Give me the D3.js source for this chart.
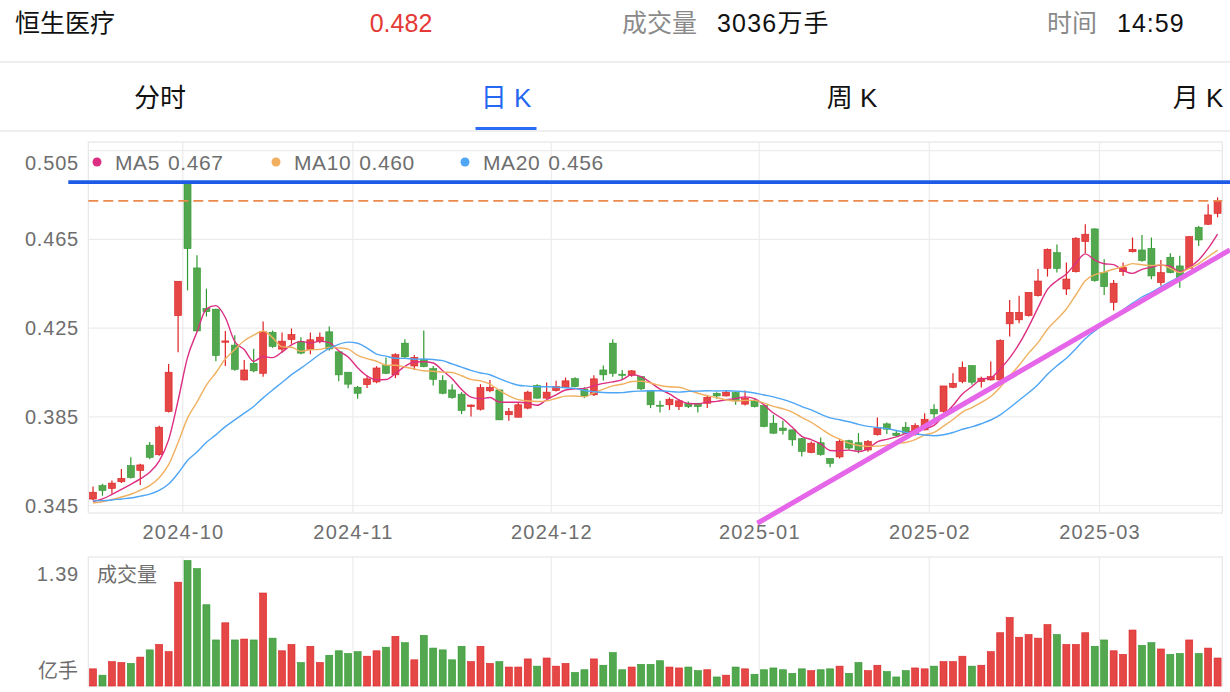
<!DOCTYPE html>
<html><head><meta charset="utf-8">
<script src="https://cdn.jsdelivr.net/npm/d3@7"></script>
<style>
html,body{margin:0;padding:0;background:#fff;}
svg{display:block;}
text{font-family:"Liberation Sans","Noto Sans CJK SC",sans-serif;}
</style></head><body>
<svg id="c" width="1230" height="692"></svg>
<script>
// ---------- data ----------
const title = "恒生医疗";
const headerVolume = "3036万手";
const headerTime = "14:59";
const tabs = ["分时", "日 K", "周 K", "月 K"];
const activeTab = 1;

const opens = [
0.3479,0.3540,0.3527,0.3557,0.3630,0.3608,0.3722,0.3679,0.3874,0.4306,
0.4902,0.4521,0.4339,0.4335,0.4186,0.4173,0.4016,0.4091,0.4046,0.4231,
0.4155,0.4198,0.4188,0.4153,0.4188,0.4233,0.4143,0.4051,0.3983,0.3995,
0.4007,0.4081,0.4039,0.4182,0.4079,0.4109,0.4067,0.4013,0.3971,0.3952,
0.3896,0.3884,0.3967,0.3971,0.3859,0.3848,0.3889,0.3991,0.3934,0.3968,
0.3983,0.4022,0.3974,0.3949,0.4061,0.4182,0.4042,0.4037,0.4031,0.3968,
0.3902,0.3904,0.3896,0.3911,0.3911,0.3911,0.3956,0.3944,0.3959,0.3907,
0.3919,0.3901,0.3821,0.3799,0.3791,0.3751,0.3689,0.3733,0.3662,0.3669,
0.3742,0.3733,0.3700,0.3769,0.3818,0.3776,0.3803,0.3769,0.3791,0.3884,
0.3874,0.3983,0.4009,0.4081,0.4009,0.4016,0.4016,0.4269,0.4287,0.4306,
0.4396,0.4519,0.4590,0.4426,0.4504,0.4640,0.4697,0.4500,0.4366,0.4504,
0.4594,0.4602,0.4609,0.4455,0.4569,0.4530,0.4519,0.4704,0.4718,0.4767];

const closes = [
0.3510,0.3518,0.3551,0.3572,0.3576,0.3633,0.3667,0.3803,0.4051,0.4461,
0.4608,0.4237,0.4324,0.4126,0.4192,0.4064,0.4061,0.4057,0.4234,0.4167,
0.4191,0.4221,0.4137,0.4197,0.4209,0.4156,0.4039,0.3997,0.3956,0.4021,
0.4070,0.4046,0.4130,0.4120,0.4118,0.4076,0.4019,0.3956,0.3937,0.3878,
0.3903,0.3982,0.3983,0.3836,0.3874,0.3904,0.3961,0.3934,0.3961,0.3986,
0.4012,0.3986,0.3944,0.4021,0.4039,0.4046,0.4037,0.4057,0.3976,0.3904,
0.3898,0.3929,0.3922,0.3896,0.3896,0.3938,0.3944,0.3961,0.3922,0.3934,
0.3896,0.3806,0.3776,0.3788,0.3746,0.3694,0.3731,0.3680,0.3640,0.3739,
0.3709,0.3700,0.3739,0.3799,0.3794,0.3766,0.3776,0.3811,0.3839,0.3863,
0.3989,0.4001,0.4072,0.4006,0.4024,0.4031,0.4194,0.4321,0.4321,0.4411,
0.4462,0.4605,0.4519,0.4471,0.4655,0.4673,0.4464,0.4437,0.4452,0.4524,
0.4605,0.4554,0.4485,0.4500,0.4500,0.4477,0.4662,0.4647,0.4760,0.4823];

const highs = [
0.3536,0.3548,0.3563,0.3615,0.3668,0.3638,0.3736,0.3809,0.4088,0.4461,
0.4905,0.4578,0.4428,0.4337,0.4237,0.4218,0.4106,0.4157,0.4279,0.4239,
0.4230,0.4248,0.4209,0.4230,0.4230,0.4257,0.4143,0.4051,0.3989,0.4036,
0.4078,0.4117,0.4136,0.4200,0.4129,0.4239,0.4079,0.4037,0.3997,0.3961,
0.3905,0.3997,0.4016,0.3971,0.3889,0.3916,0.3967,0.3997,0.4004,0.4012,
0.4027,0.4028,0.3983,0.4037,0.4081,0.4200,0.4061,0.4061,0.4034,0.3968,
0.3922,0.3937,0.3929,0.3919,0.3911,0.3944,0.3961,0.3968,0.3964,0.3968,
0.3934,0.3901,0.3859,0.3832,0.3791,0.3754,0.3739,0.3757,0.3662,0.3751,
0.3746,0.3776,0.3745,0.3847,0.3824,0.3787,0.3826,0.3821,0.3866,0.3907,
0.3989,0.4046,0.4099,0.4081,0.4031,0.4099,0.4200,0.4377,0.4396,0.4411,
0.4516,0.4609,0.4627,0.4546,0.4659,0.4718,0.4700,0.4560,0.4467,0.4546,
0.4658,0.4670,0.4658,0.4557,0.4587,0.4576,0.4665,0.4710,0.4808,0.4839];

const lows = [
0.3473,0.3494,0.3503,0.3551,0.3572,0.3542,0.3659,0.3674,0.3869,0.4141,
0.4420,0.4235,0.4302,0.4100,0.4079,0.4058,0.4014,0.4051,0.4031,0.4161,
0.4137,0.4179,0.4132,0.4132,0.4182,0.4149,0.4010,0.3979,0.3931,0.3980,
0.4001,0.4043,0.4024,0.4114,0.4061,0.4073,0.3991,0.3952,0.3931,0.3862,
0.3851,0.3878,0.3961,0.3836,0.3832,0.3848,0.3884,0.3931,0.3931,0.3964,
0.3980,0.3983,0.3934,0.3944,0.4013,0.4031,0.4019,0.4031,0.3971,0.3889,
0.3869,0.3881,0.3881,0.3889,0.3869,0.3889,0.3931,0.3941,0.3904,0.3901,
0.3892,0.3803,0.3773,0.3770,0.3719,0.3671,0.3686,0.3674,0.3623,0.3662,
0.3701,0.3685,0.3692,0.3766,0.3772,0.3761,0.3772,0.3766,0.3788,0.3839,
0.3869,0.3979,0.4001,0.3994,0.3982,0.4013,0.4016,0.4212,0.4272,0.4302,
0.4392,0.4482,0.4500,0.4399,0.4500,0.4587,0.4459,0.4399,0.4329,0.4485,
0.4591,0.4549,0.4470,0.4441,0.4497,0.4432,0.4516,0.4620,0.4715,0.4749];

// volume, 亿手
const volumes = [
0.19,0.12,0.27,0.26,0.25,0.32,0.40,0.46,0.38,1.15,
1.39,1.30,0.90,0.51,0.70,0.51,0.52,0.51,1.03,0.53,
0.39,0.46,0.26,0.44,0.26,0.34,0.39,0.36,0.38,0.33,
0.39,0.43,0.55,0.48,0.29,0.56,0.42,0.40,0.29,0.44,
0.27,0.44,0.25,0.27,0.21,0.21,0.30,0.22,0.31,0.22,
0.25,0.15,0.18,0.30,0.23,0.37,0.18,0.21,0.24,0.24,
0.28,0.21,0.20,0.21,0.17,0.18,0.10,0.12,0.21,0.19,
0.13,0.18,0.20,0.18,0.14,0.19,0.17,0.18,0.19,0.22,
0.14,0.26,0.17,0.23,0.16,0.10,0.17,0.20,0.19,0.22,
0.27,0.27,0.33,0.22,0.23,0.38,0.59,0.76,0.54,0.57,
0.53,0.68,0.57,0.46,0.46,0.59,0.44,0.51,0.39,0.35,
0.62,0.45,0.48,0.41,0.35,0.36,0.51,0.36,0.42,0.31];

// closes before the first visible bar (needed for MA at the left edge)
const priorCloses = [0.350,0.349,0.348,0.349,0.347,0.348,0.347,0.348,0.348,0.347,
  0.346,0.345,0.346,0.345,0.345,0.346,0.345,0.346,0.346];

const monthLabels = ["2024-10","2024-11","2024-12","2025-01","2025-02","2025-03"];
const monthStartIndex = [10, 28, 49, 71, 89, 107];
const priceTicks = [0.345, 0.385, 0.425, 0.465, 0.505];
const maPeriods = [5, 10, 20];
const maNames = ["MA5", "MA10", "MA20"];
const resistanceLevel = [0.4908];            // blue horizontal line
const trendIdx = [70.3, 120.3];              // drawn support line (bar index)
const trendVal = [0.3370, 0.4602];           // drawn support line (price)

// ---------- styles ----------
const RED = "#e54646", RED_S = "#dd2222";
const GREEN = "#52a74f", GREEN_S = "#2f9a2f";
const MA_COLORS = ["#dc2e82", "#f0b060", "#4fa6f5"];
const GRID = "#ececec";
const LABEL = "#6e6e6e";

// ---------- scales ----------
const svg = d3.select("#c");
svg.append("rect").attr("width",1230).attr("height",692).attr("fill","#fff");
const plot = {left: 88.3, right: 1222.3, top: 142, bottom: 513};
const vol = {top: 557, bottom: 686};
const n = closes.length;
const idx = d3.range(n);
const x = d3.scaleBand().domain(idx).range([plot.left, plot.right]).padding(0);
const bw = x.bandwidth();
const cx = i => x(i) + bw / 2;
const xi = d3.scaleLinear().domain([0, n - 1]).range([cx(0), cx(n - 1)]);
const y = d3.scaleLinear().domain([0.345, 0.505]).range([505.5, 150.6]);
const yv = d3.scaleLinear().domain([0, d3.max(volumes)]).range([vol.bottom, 560.5]);

// ---------- header ----------
const fmt3 = d3.format(".3f");
const hdr = svg.append("g").attr("font-size", 25).attr("dominant-baseline", "central");
hdr.append("text").attr("x", 15).attr("y", 23).attr("fill", "#111").text(title);
hdr.append("text").attr("x", 401).attr("y", 23).attr("text-anchor", "middle").attr("fill", "#e53935").text(fmt3(closes[n-1]));
hdr.append("text").attr("x", 622).attr("y", 23).attr("fill", "#8a8a8a").text("成交量");
hdr.append("text").attr("x", 717).attr("y", 23).attr("fill", "#111").attr("letter-spacing", 1.2).text(headerVolume);
hdr.append("text").attr("x", 1047).attr("y", 23).attr("fill", "#8a8a8a").text("时间");
hdr.append("text").attr("x", 1117).attr("y", 23).attr("fill", "#111").attr("letter-spacing", 1).text(headerTime);
svg.append("line").attr("x1",0).attr("x2",1230).attr("y1",62).attr("y2",62).attr("stroke","#e8e8e8").attr("stroke-width",1.5);

const tabX = [160, 506, 852, 1198];
const tg = svg.append("g").attr("font-size", 26).attr("dominant-baseline", "central").attr("text-anchor", "middle");
tabs.forEach((t, i) => {
  tg.append("text").attr("x", tabX[i]).attr("y", 98).attr("fill", i === activeTab ? "#2468f2" : "#111").text(t);
});
svg.append("line").attr("x1",0).attr("x2",1230).attr("y1",131).attr("y2",131).attr("stroke","#e8e8e8").attr("stroke-width",1.5);
svg.append("rect").attr("x", tabX[activeTab]-30.5).attr("y", 127).attr("width", 61).attr("height", 3).attr("fill", "#2a6df4");

// ---------- main grid ----------
const grid = svg.append("g");
grid.append("rect").attr("x", plot.left).attr("y", plot.top).attr("width", plot.right - plot.left)
  .attr("height", plot.bottom - plot.top).attr("fill", "none").attr("stroke", "#e6e6e6").attr("stroke-width", 1.2);
grid.selectAll(".hg").data(priceTicks).join("line")
  .attr("x1", plot.left).attr("x2", plot.right)
  .attr("y1", d => y(d)).attr("y2", d => y(d)).attr("stroke", GRID).attr("stroke-width", 1.2);
grid.selectAll(".vg").data(monthStartIndex).join("line")
  .attr("x1", d => x(d)).attr("x2", d => x(d))
  .attr("y1", plot.top).attr("y2", plot.bottom).attr("stroke", GRID).attr("stroke-width", 1.2);

// y labels
const yl = svg.append("g").attr("font-size", 20).attr("fill", LABEL).attr("text-anchor", "end")
  .attr("dominant-baseline", "central").attr("letter-spacing", 0.8);
yl.selectAll("text").data(priceTicks).join("text")
  .attr("x", 79).attr("y", d => Math.max(y(d), plot.top + 21)).text(d => fmt3(d));
// x labels
const xl = svg.append("g").attr("font-size", 20).attr("fill", LABEL).attr("text-anchor", "middle")
  .attr("dominant-baseline", "central").attr("letter-spacing", 1.2);
xl.selectAll("text").data(monthStartIndex).join("text")
  .attr("x", d => x(d) + 0.6).attr("y", 532).text((d, i) => monthLabels[i]);

// ---------- candles ----------
const up = i => closes[i] >= opens[i];
const cg = svg.append("g");
const bodyW = 7;
cg.selectAll(".wick").data(idx).join("line")
  .attr("x1", cx).attr("x2", cx)
  .attr("y1", i => y(highs[i])).attr("y2", i => y(lows[i]))
  .attr("stroke", i => up(i) ? RED_S : GREEN_S).attr("stroke-width", 1.2);
cg.selectAll(".body").data(idx).join("rect")
  .attr("x", i => cx(i) - bodyW / 2).attr("width", bodyW)
  .attr("y", i => y(Math.max(opens[i], closes[i])))
  .attr("height", i => Math.max(1, Math.abs(y(opens[i]) - y(closes[i]))))
  .attr("fill", i => up(i) ? RED : GREEN)
  .attr("stroke", i => up(i) ? RED_S : GREEN_S).attr("stroke-width", 0.6);

// ---------- moving averages ----------
const allCloses = priorCloses.concat(closes);
const off = priorCloses.length;
const maSeries = maPeriods.map(p => idx.map(i => d3.mean(allCloses.slice(i + off - p + 1, i + off + 1))));
const line = d3.line().x((d, i) => cx(i)).y(d => y(d)).curve(d3.curveMonotoneX);
svg.append("g").selectAll("path").data(maSeries).join("path")
  .attr("d", line).attr("fill", "none")
  .attr("stroke", (d, k) => MA_COLORS[k]).attr("stroke-width", 1.4);

// current price dashed line
svg.append("line").attr("x1", plot.left).attr("x2", plot.right)
  .attr("y1", y(closes[n-1])).attr("y2", y(closes[n-1]))
  .attr("stroke", "#ea8a4c").attr("stroke-width", 1.8).attr("stroke-dasharray", "10,5");

// blue horizontal drawn line
svg.selectAll(".res").data(resistanceLevel).join("line")
  .attr("x1", plot.left - 20).attr("x2", 1230)
  .attr("y1", d => y(d)).attr("y2", d => y(d))
  .attr("stroke", "#1d5be6").attr("stroke-width", 3.6);

// magenta trend line
svg.append("line")
  .attr("x1", xi(trendIdx[0])).attr("y1", y(trendVal[0]))
  .attr("x2", xi(trendIdx[1])).attr("y2", y(trendVal[1]))
  .attr("stroke", "#e566e8").attr("stroke-width", 5);

// legend
const lg = svg.append("g").attr("font-size", 21).attr("dominant-baseline", "central").attr("letter-spacing", 0.6);
const legX = [97, 276, 465];
maNames.forEach((nm, k) => {
  lg.append("circle").attr("cx", legX[k]).attr("cy", 162).attr("r", 4.5).attr("fill", MA_COLORS[k]);
  const t = lg.append("text").attr("x", legX[k] + 18).attr("y", 162).attr("fill", LABEL).text(nm);
  const w = t.node().getComputedTextLength();
  lg.append("text").attr("x", legX[k] + 18 + w + 8).attr("y", 162).attr("fill", LABEL)
    .text(fmt3(maSeries[k][n-1]));
});

// ---------- volume ----------
const vg = svg.append("g");
vg.append("rect").attr("x", plot.left).attr("y", vol.top).attr("width", plot.right - plot.left)
  .attr("height", vol.bottom - vol.top).attr("fill", "none").attr("stroke", "#e6e6e6").attr("stroke-width", 1.2);
vg.selectAll(".vvg").data(monthStartIndex).join("line")
  .attr("x1", d => x(d)).attr("x2", d => x(d))
  .attr("y1", vol.top).attr("y2", vol.bottom).attr("stroke", GRID).attr("stroke-width", 1.2);
vg.selectAll(".vb").data(idx).join("rect")
  .attr("x", i => cx(i) - bodyW / 2).attr("width", bodyW)
  .attr("y", i => yv(volumes[i])).attr("height", i => vol.bottom - yv(volumes[i]))
  .attr("fill", i => up(i) ? RED : GREEN)
  .attr("stroke", i => up(i) ? RED_S : GREEN_S).attr("stroke-width", 0.6);
const vl = svg.append("g").attr("font-size", 20).attr("fill", LABEL).attr("dominant-baseline", "central");
vl.append("text").attr("x", 79).attr("y", 574).attr("text-anchor", "end").attr("letter-spacing", 0.8)
  .text(d3.format(".2f")(d3.max(volumes)));
vl.append("text").attr("x", 78).attr("y", 671).attr("text-anchor", "end").text("亿手");
vl.append("text").attr("x", 97).attr("y", 575).attr("font-size", 20).text("成交量");
</script>
</body></html>
